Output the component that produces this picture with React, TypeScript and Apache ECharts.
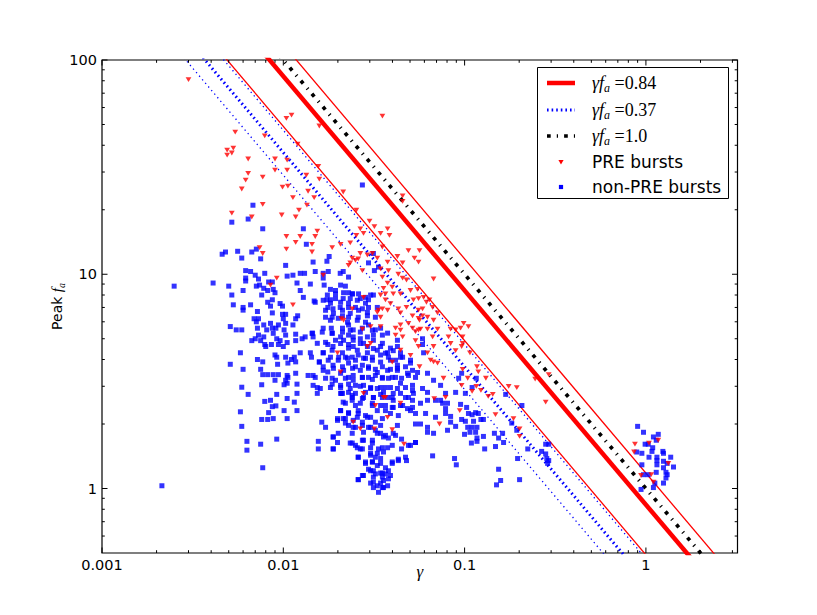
import React, { useEffect, useRef } from "react";
import * as echarts from "echarts";

// ---- axis ranges ----
const X_MIN = 0.001;
const X_MAX = 3.2;
const Y_MIN = 0.5;
const Y_MAX = 100;

// ---- constant-product lines (gamma * f_a = const) ----
const redMainProduct = 0.84;
const redBandProducts = [0.49, 1.18];
const blueMainProduct = 0.37;
const blueBandProducts = [0.29, 0.47];
const blackProduct = 1.0;

// ---- tick values ----
const xMajorTicks = [0.001, 0.01, 0.1, 1];
const xMinorTicks = [
  0.002, 0.003, 0.004, 0.005, 0.006, 0.007, 0.008, 0.009,
  0.02, 0.03, 0.04, 0.05, 0.06, 0.07, 0.08, 0.09,
  0.2, 0.3, 0.4, 0.5, 0.6, 0.7, 0.8, 0.9, 2, 3,
];
const yMajorTicks = [1, 10, 100];
const yMinorTicks = [0.6, 0.7, 0.8, 0.9, 2, 3, 4, 5, 6, 7, 8, 9, 20, 30, 40, 50, 60, 70, 80, 90];

// ---- PRE bursts [gamma, peak f_a] ----
const preBursts: [number, number][] = [
  [0.003, 81], [0.0352, 54.7], [0.0104, 53.4], [0.0111, 55.3], [0.0158, 49.2], [0.00543, 46.1], [0.0079, 44.2],
  [0.012, 40.5], [0.0049, 38.0], [0.0053, 38.8], [0.0052, 36.8], [0.0049, 36.0], [0.0064, 34.5], [0.009, 34.5],
  [0.0105, 34.1], [0.0156, 31.9], [0.0064, 29.6], [0.009, 30.6], [0.0105, 30.6], [0.0134, 29.0], [0.0077, 28.4],
  [0.0158, 27.8], [0.0062, 27.5], [0.0059, 25.0], [0.0099, 25.5], [0.0106, 25.8], [0.0137, 24.4], [0.0214, 24.2],
  [0.0113, 22.8], [0.0148, 22.8], [0.0077, 21.2], [0.0135, 21.0], [0.0122, 19.9], [0.0455, 23.2], [0.0455, 21.9],
  [0.0052, 19.3], [0.0067, 18.5], [0.0098, 18.9], [0.0104, 15.0], [0.0104, 13.1], [0.0074, 13.3], [0.0077, 12.5],
  [0.0092, 9.6], [0.0085, 8.9],
  [0.0117, 18.5], [0.0117, 14.1], [0.0124, 15.0], [0.0144, 13.8], [0.015, 15.0], [0.0154, 15.9], [0.0144, 12.7],
  [0.0186, 13.3], [0.0207, 13.8], [0.0253, 19.9], [0.0299, 17.7], [0.0318, 16.7], [0.0266, 16.3], [0.0277, 15.5],
  [0.0253, 15.2], [0.0344, 15.5], [0.0376, 16.3], [0.0385, 15.2], [0.0234, 14.0], [0.0266, 12.5], [0.0291, 12.3],
  [0.024, 11.9], [0.025, 11.6], [0.0229, 11.0], [0.0234, 11.3], [0.0259, 11.8], [0.031, 12.5], [0.033, 11.9],
  [0.0352, 13.4], [0.0376, 11.4], [0.0426, 12.1], [0.049, 12.9], [0.0564, 12.9], [0.0529, 11.9], [0.0557, 11.4],
  [0.0455, 11.3], [0.0344, 10.6], [0.038, 10.4], [0.0273, 10.4], [0.0352, 9.7], [0.0431, 10.0], [0.0455, 9.6],
  [0.0478, 9.4], [0.0376, 9.1], [0.0399, 8.7], [0.0357, 8.6], [0.0404, 8.1], [0.0344, 8.0], [0.0443, 8.1],
  [0.0503, 8.4], [0.055, 8.5], [0.0674, 9.5], [0.0366, 7.6], [0.039, 7.3], [0.0335, 6.8], [0.0352, 6.9],
  [0.0431, 6.9], [0.0478, 7.0], [0.0522, 7.6], [0.0557, 7.7], [0.0594, 7.8], [0.0616, 7.4], [0.0443, 6.6],
  [0.0557, 6.8], [0.0586, 6.9], [0.064, 7.6], [0.0666, 7.0], [0.0709, 6.6], [0.0516, 6.4], [0.0586, 6.4],
  [0.049, 5.9], [0.0516, 5.6], [0.0564, 6.1], [0.0624, 6.3], [0.0674, 6.1], [0.0536, 5.4], [0.0571, 5.55],
  [0.0416, 5.6], [0.0443, 5.8], [0.0344, 5.7], [0.0624, 5.55], [0.0709, 5.55], [0.0416, 5.2], [0.0536, 4.9],
  [0.0557, 4.6], [0.0666, 5.1], [0.0674, 4.6], [0.0624, 4.3], [0.0649, 3.97], [0.0674, 3.9], [0.0709, 3.85],
  [0.0837, 5.55], [0.0892, 5.5], [0.095, 5.6], [0.0988, 5.9], [0.0837, 4.75], [0.0975, 4.75], [0.105, 5.7],
  [0.0765, 3.27], [0.0975, 3.6], [0.094, 2.31], [0.0727, 2.0], [0.068, 2.63], [0.0785, 2.66], [0.0564, 3.7],
  [0.0291, 4.6], [0.024, 6.9], [0.0209, 6.2], [0.0273, 5.55], [0.0344, 6.3], [0.0303, 5.7], [0.0207, 3.5],
  [0.0166, 9.9], [0.0113, 7.2], [0.0266, 1.9], [0.0318, 1.9], [0.0399, 1.88], [0.0376, 2.15], [0.0463, 1.61],
  [0.0357, 2.66], [0.0443, 2.5],
  [0.0815, 5.1], [0.0975, 5.1], [0.0963, 4.6], [0.0892, 4.4], [0.107, 4.3], [0.117, 3.7], [0.119, 3.5],
  [0.104, 3.27], [0.131, 3.27], [0.0963, 3.03], [0.116, 3.0], [0.11, 2.84], [0.123, 2.87], [0.175, 3.0],
  [0.194, 2.96], [0.143, 2.75], [0.135, 2.69], [0.245, 3.24], [0.291, 3.4], [0.28, 2.53], [0.148, 2.21],
  [0.186, 2.12], [0.201, 1.9], [0.201, 1.75],
  [0.0277, 7.8], [0.0215, 6.1], [0.033, 6.64], [0.0366, 8.1], [0.0376, 6.79], [0.0443, 5.48], [0.0557, 6.23],
  [0.0557, 5.48], [0.0455, 5.1], [0.0199, 4.3], [0.0303, 4.76], [0.0399, 3.89], [0.0443, 4.42], [0.0503, 4.18],
  [0.0277, 2.78], [0.0366, 2.66], [0.0322, 2.44], [0.0243, 2.04],
  [0.87, 1.61], [0.86, 1.48], [1.04, 1.63], [1.17, 1.68], [1.33, 1.31], [1.07, 1.16], [0.94, 1.15], [1.1, 1.07],
];

// ---- non-PRE bursts [gamma, peak f_a] ----
const nonPreBursts: [number, number][] = [
  [0.0068, 21.0], [0.0064, 18.1], [0.0052, 17.5], [0.0077, 16.3], [0.0046, 12.4], [0.0048, 12.7], [0.0056, 12.8],
  [0.0067, 12.7], [0.0071, 13.1], [0.0059, 11.9], [0.0075, 11.8], [0.0103, 11.0], [0.0062, 10.4], [0.0066, 10.3],
  [0.007, 9.9], [0.0073, 9.5], [0.0062, 9.6], [0.0062, 9.3], [0.0079, 10.1], [0.0105, 9.8], [0.0025, 8.8],
  [0.0041, 9.1], [0.005, 8.8], [0.0071, 8.8], [0.0074, 8.9], [0.0083, 9.2], [0.0087, 9.2], [0.006, 8.4],
  [0.0078, 8.6], [0.0082, 8.4], [0.0088, 8.5], [0.009, 8.2], [0.0052, 8.0], [0.0076, 8.0], [0.0087, 7.6],
  [0.0082, 7.4], [0.0053, 7.2], [0.0066, 7.2], [0.006, 7.0], [0.006, 6.8], [0.0072, 6.7], [0.0085, 7.1],
  [0.0087, 6.6], [0.0096, 7.3], [0.0099, 7.1], [0.0099, 6.5], [0.0103, 6.5], [0.01, 6.2], [0.0069, 6.2],
  [0.0073, 6.2], [0.0071, 6.0], [0.0072, 5.6], [0.0078, 5.8], [0.0085, 5.9], [0.0087, 5.6], [0.0081, 5.5],
  [0.0091, 5.6], [0.0094, 5.8], [0.0103, 5.9], [0.0101, 5.5], [0.0051, 5.7], [0.0055, 5.5], [0.0059, 5.5],
  [0.0073, 5.2], [0.0078, 5.1], [0.007, 5.0], [0.0067, 4.9], [0.0075, 4.9], [0.0079, 4.7], [0.008, 4.6],
  [0.0088, 5.3], [0.0086, 4.7], [0.0092, 5.0], [0.0094, 4.7], [0.0103, 5.2], [0.0105, 4.8], [0.0058, 4.3],
  [0.0072, 4.0], [0.0077, 3.9], [0.009, 4.2], [0.0092, 4.1], [0.0103, 4.1], [0.0111, 4.0], [0.0051, 3.8],
  [0.006, 3.6], [0.0075, 3.6], [0.0077, 3.4], [0.0093, 3.8], [0.0082, 3.4], [0.0088, 3.4], [0.0094, 3.4],
  [0.0103, 3.2], [0.0106, 3.3], [0.0105, 3.1], [0.0101, 3.05], [0.009, 3.2], [0.0076, 3.05], [0.0059, 2.97],
  [0.0064, 2.75], [0.0092, 2.75], [0.0079, 2.55], [0.0085, 2.58], [0.0087, 2.41], [0.0091, 2.43], [0.0083, 2.26],
  [0.0101, 2.31], [0.0058, 2.28], [0.0076, 2.1], [0.0082, 2.1], [0.0088, 2.12], [0.0105, 2.12], [0.0059, 1.95],
  [0.0063, 1.66], [0.0063, 1.51], [0.0075, 1.61], [0.0092, 1.7], [0.0077, 1.25], [0.00214, 1.03],
  [0.0129, 16.3], [0.0134, 13.8], [0.0179, 12.1], [0.0174, 11.5], [0.0146, 11.4], [0.015, 10.3], [0.0166, 10.1],
  [0.0177, 10.3], [0.0113, 9.9], [0.0124, 10.1], [0.0131, 10.1], [0.0214, 10.3], [0.0206, 10.1], [0.0229, 9.7],
  [0.0295, 11.3], [0.0314, 12.5], [0.0318, 10.4], [0.0335, 10.8], [0.0119, 9.1], [0.0141, 9.0], [0.0166, 9.6],
  [0.0168, 8.9], [0.0182, 8.5], [0.0194, 8.4], [0.0207, 8.9], [0.022, 8.8], [0.0229, 8.2], [0.024, 8.1],
  [0.0124, 8.4], [0.0129, 7.8], [0.0148, 7.5], [0.0174, 7.6], [0.0182, 7.6], [0.0194, 7.7], [0.0214, 7.7],
  [0.0234, 7.7], [0.0266, 7.7], [0.0284, 7.8], [0.0314, 8.0], [0.0295, 7.6], [0.0176, 7.0], [0.0188, 6.9],
  [0.0206, 7.0], [0.0229, 7.0], [0.025, 7.0], [0.0273, 6.9], [0.0295, 7.0], [0.033, 7.0], [0.012, 6.4],
  [0.0171, 6.3], [0.0186, 6.3], [0.0212, 6.4], [0.0229, 6.3], [0.0259, 6.3], [0.0291, 6.4], [0.0322, 6.3],
  [0.0117, 6.2], [0.0113, 5.8], [0.0166, 5.6], [0.0184, 5.6], [0.0212, 5.6], [0.0229, 5.8], [0.0243, 5.5],
  [0.0273, 5.6], [0.0295, 5.8], [0.0322, 5.5], [0.0344, 5.6], [0.0117, 5.25], [0.0132, 5.1], [0.0146, 5.1],
  [0.0144, 5.3], [0.0186, 5.3], [0.0207, 5.1], [0.0229, 5.2], [0.0243, 5.1], [0.0266, 5.0], [0.0291, 5.1],
  [0.0314, 5.2], [0.0352, 5.2], [0.0117, 4.9], [0.0127, 5.0], [0.0176, 4.7], [0.0188, 4.6], [0.0207, 4.75],
  [0.0229, 4.7], [0.0243, 4.6], [0.0266, 4.75], [0.0291, 4.6], [0.0314, 4.5], [0.0344, 4.6], [0.0376, 4.3],
  [0.0404, 4.4], [0.0443, 4.3], [0.0426, 4.6], [0.0115, 4.1], [0.0124, 4.3], [0.0141, 4.3], [0.0143, 4.1],
  [0.0166, 4.3], [0.0182, 4.1], [0.0202, 4.1], [0.022, 4.1], [0.024, 4.1], [0.0259, 4.2], [0.0284, 4.05],
  [0.031, 4.1], [0.0344, 4.2], [0.038, 4.1], [0.0416, 3.97], [0.0455, 4.1], [0.0503, 3.85], [0.0586, 5.0],
  [0.0586, 4.7], [0.0594, 4.3], [0.0106, 3.85], [0.0117, 3.9], [0.0158, 3.9], [0.0166, 3.7], [0.0188, 3.76],
  [0.0212, 3.7], [0.0229, 3.85], [0.025, 3.7], [0.0273, 3.76], [0.0295, 3.7], [0.0322, 3.6], [0.0352, 3.7],
  [0.039, 3.6], [0.0426, 3.56], [0.0472, 3.7], [0.0516, 3.56], [0.0105, 3.37], [0.0117, 3.45], [0.0137, 3.37],
  [0.0146, 3.37], [0.0176, 3.5], [0.0186, 3.27], [0.0207, 3.45], [0.0229, 3.3], [0.0243, 3.37], [0.0273, 3.3],
  [0.0295, 3.3], [0.0322, 3.37], [0.0352, 3.3], [0.038, 3.27], [0.0416, 3.3], [0.0449, 3.27], [0.049, 3.37],
  [0.0536, 3.3], [0.0624, 3.45], [0.0674, 3.2], [0.0146, 3.03], [0.016, 2.93], [0.0186, 3.07], [0.0207, 3.03],
  [0.0229, 3.07], [0.025, 3.03], [0.0277, 3.03], [0.0303, 2.96], [0.033, 2.93], [0.0366, 2.96], [0.0426, 2.93],
  [0.0472, 2.96], [0.0516, 2.87], [0.0586, 2.93], [0.0624, 2.81], [0.0119, 2.78], [0.0154, 2.78], [0.0209, 2.78],
  [0.0229, 2.81], [0.025, 2.78], [0.0284, 2.81], [0.0314, 2.66], [0.0344, 2.75], [0.0376, 2.66], [0.0404, 2.58],
  [0.0472, 2.66], [0.0516, 2.58], [0.0624, 2.58], [0.0691, 2.58], [0.0115, 2.53], [0.0214, 2.53], [0.024, 2.58],
  [0.0266, 2.5], [0.031, 2.5], [0.0344, 2.44], [0.0366, 2.31], [0.0399, 2.39], [0.0443, 2.44], [0.0484, 2.36],
  [0.0536, 2.24], [0.0609, 2.24], [0.0691, 2.15], [0.0119, 2.31], [0.0207, 2.31], [0.0229, 2.24], [0.0259, 2.24],
  [0.0214, 2.12], [0.0199, 2.08], [0.0243, 2.08], [0.0273, 2.04], [0.0303, 2.15], [0.0322, 2.04], [0.0163, 2.04],
  [0.0229, 1.97], [0.025, 1.93], [0.0295, 1.93], [0.0322, 1.87], [0.0344, 1.81], [0.0357, 1.74], [0.038, 1.72],
  [0.0416, 1.77], [0.0449, 1.7], [0.049, 1.59], [0.0536, 1.64], [0.0624, 1.93], [0.0674, 1.81], [0.0171, 1.93],
  [0.0188, 1.74], [0.0199, 1.64], [0.0156, 1.66], [0.0156, 1.53], [0.0188, 1.53], [0.024, 1.63], [0.0256, 1.55],
  [0.0273, 1.53], [0.0303, 1.55], [0.0335, 1.53], [0.031, 1.68], [0.0273, 1.68], [0.0376, 1.55], [0.0259, 1.4],
  [0.0303, 1.46], [0.0322, 1.4], [0.031, 1.33], [0.0344, 1.38], [0.033, 1.28], [0.0284, 1.31], [0.0399, 1.31],
  [0.0366, 1.25], [0.0431, 1.37], [0.0472, 1.4], [0.0666, 1.42], [0.0303, 1.21], [0.0322, 1.17], [0.0344, 1.18],
  [0.0366, 1.17], [0.0273, 1.15], [0.0357, 1.09], [0.038, 1.11], [0.0259, 1.1], [0.0314, 1.07], [0.0344, 1.06],
  [0.0376, 1.03], [0.0314, 1.01], [0.0352, 1.01], [0.0335, 0.96], [0.0096, 4.9], [0.01, 4.6], [0.0119, 3.07],
  [0.0105, 2.63], [0.0737, 3.03], [0.101, 2.78], [0.0805, 1.87], [0.0273, 26.1],
  [0.0737, 2.58], [0.0756, 2.5], [0.0785, 2.36], [0.0805, 2.5], [0.0785, 2.78], [0.0785, 2.24], [0.0837, 2.17],
  [0.0837, 2.04], [0.0892, 2.81], [0.0892, 1.95], [0.0927, 3.27], [0.0963, 3.45], [0.095, 2.47], [0.1026, 2.39],
  [0.0963, 2.1], [0.101, 2.06], [0.105, 2.24], [0.11, 2.21], [0.115, 2.26], [0.119, 2.24], [0.116, 3.27],
  [0.11, 2.96], [0.104, 1.93], [0.11, 1.93], [0.107, 1.83], [0.115, 1.83], [0.0999, 1.79], [0.112, 2.06],
  [0.123, 2.1], [0.127, 2.1], [0.117, 1.93], [0.117, 1.72], [0.117, 1.66], [0.109, 1.63], [0.127, 1.75],
  [0.129, 1.53], [0.146, 1.81], [0.148, 1.57], [0.154, 1.72], [0.162, 1.81], [0.164, 1.64], [0.1685, 2.75],
  [0.182, 2.02], [0.194, 1.87], [0.207, 2.44], [0.223, 1.53], [0.196, 1.38], [0.201, 1.1], [0.154, 1.23],
  [0.158, 1.09], [0.15, 1.04], [0.088, 1.38], [0.09, 1.29], [0.266, 1.49], [0.28, 1.61], [0.291, 1.61],
  [0.28, 1.45], [0.284, 1.38], [0.291, 1.35], [0.287, 1.31],
  [0.0175, 8.0], [0.0194, 8.1], [0.0215, 8.2], [0.0241, 8.1], [0.026, 8.1], [0.0303, 8.0], [0.015, 7.4],
  [0.0166, 7.56], [0.0182, 7.33], [0.0207, 7.4], [0.0229, 7.33], [0.0256, 7.56], [0.0284, 7.33], [0.0171, 6.79],
  [0.0189, 6.57], [0.0212, 6.79], [0.0234, 6.57], [0.026, 6.79], [0.0291, 6.64], [0.0182, 6.1], [0.0201, 6.23],
  [0.0226, 5.97], [0.0256, 6.1], [0.0284, 5.97], [0.0145, 5.31], [0.0164, 5.37], [0.0186, 5.31], [0.0212, 5.37],
  [0.0234, 5.48], [0.0266, 5.37], [0.031, 5.48], [0.0154, 4.76], [0.0171, 4.81], [0.0194, 4.92], [0.0215, 4.92],
  [0.0243, 4.92], [0.0277, 4.76], [0.0314, 4.92], [0.0352, 4.76], [0.0166, 4.3], [0.0186, 4.42], [0.0212, 4.3],
  [0.0229, 4.52], [0.0256, 4.42], [0.0291, 4.3], [0.033, 4.42], [0.0366, 4.28], [0.0158, 3.89], [0.0177, 3.97],
  [0.0201, 3.97], [0.0226, 4.06], [0.025, 3.97], [0.0277, 4.06], [0.031, 3.97], [0.0344, 3.89], [0.039, 3.97],
  [0.0166, 3.56], [0.0189, 3.64], [0.0215, 3.56], [0.0241, 3.64], [0.0266, 3.56], [0.0295, 3.64], [0.033, 3.48],
  [0.0376, 3.56], [0.0426, 3.64], [0.015, 3.3], [0.0171, 3.27], [0.0194, 3.2], [0.022, 3.27], [0.0243, 3.2],
  [0.0273, 3.3], [0.031, 3.23], [0.0352, 3.27], [0.0399, 3.3], [0.0154, 2.96], [0.0182, 2.96], [0.0207, 2.96],
  [0.0234, 2.93], [0.0266, 3.0], [0.0303, 2.93], [0.0344, 2.96], [0.039, 2.96], [0.0212, 2.78], [0.024, 2.72],
  [0.0277, 2.66], [0.0352, 2.66], [0.0376, 5.31], [0.0426, 4.92], [0.039, 4.52], [0.0443, 4.1], [0.0503, 3.97],
  [0.0426, 3.76], [0.0484, 3.45], [0.055, 3.48], [0.0443, 3.1], [0.0516, 3.03], [0.0522, 2.78], [0.0404, 2.78],
  [0.0207, 2.78], [0.024, 2.66], [0.0273, 2.63], [0.0314, 2.66], [0.0357, 2.81], [0.0399, 2.66], [0.0443, 2.78],
  [0.049, 2.66], [0.022, 2.5], [0.025, 2.44], [0.031, 2.44], [0.0366, 2.44], [0.0404, 2.39], [0.0455, 2.44],
  [0.0516, 2.39], [0.0571, 2.5], [0.0207, 2.31], [0.0229, 2.26], [0.0259, 2.31], [0.0284, 2.19], [0.033, 2.31],
  [0.039, 2.24], [0.0431, 2.19], [0.0503, 2.31], [0.0199, 2.12], [0.022, 2.12], [0.0256, 2.15], [0.0291, 2.15],
  [0.0352, 2.12], [0.022, 2.02], [0.0243, 1.93], [0.0273, 1.97], [0.0303, 1.93], [0.0344, 1.97], [0.0426, 1.97],
  [0.0536, 2.0], [0.0571, 2.0], [0.0624, 1.83], [0.0189, 1.74], [0.0201, 1.81], [0.024, 1.81], [0.0277, 1.83],
  [0.033, 1.81], [0.0366, 1.77], [0.0404, 1.81], [0.0234, 1.63], [0.025, 1.59], [0.0277, 1.68], [0.031, 1.63],
  [0.0352, 1.55], [0.0399, 1.59], [0.0449, 1.53], [0.0503, 1.59], [0.0536, 1.64], [0.0189, 1.53], [0.0266, 1.53],
  [0.0259, 1.4], [0.0303, 1.43], [0.033, 1.46], [0.0357, 1.48], [0.0431, 1.35], [0.0478, 1.35], [0.0284, 1.33],
  [0.031, 1.33], [0.0344, 1.31], [0.0399, 1.33], [0.0295, 1.23], [0.0314, 1.21], [0.0352, 1.18], [0.038, 1.21],
  [0.0259, 1.1], [0.0277, 1.15], [0.0314, 1.13], [0.0352, 1.13], [0.039, 1.15], [0.0303, 1.06], [0.033, 1.03],
  [0.0357, 1.01],
  [0.9, 1.95], [0.97, 1.83], [1.1, 1.74], [1.17, 1.79], [1.14, 1.68], [0.99, 1.61], [1.03, 1.61], [1.09, 1.55],
  [1.08, 1.49], [0.95, 1.46], [0.89, 1.48], [1.24, 1.49], [1.25, 1.46], [1.04, 1.4], [1.15, 1.4], [1.15, 1.35],
  [1.37, 1.4], [1.25, 1.34], [0.95, 1.29], [1.15, 1.29], [1.31, 1.31], [1.42, 1.26], [1.25, 1.25], [1.29, 1.19],
  [1.14, 1.19], [0.97, 1.16], [1.03, 1.16], [1.31, 1.16], [1.12, 1.06], [1.1, 1.01], [1.29, 1.12], [1.25, 1.06],
  [0.94, 0.99],
];

// ---- styles ----
const RED = "#ff0000";
const BLUE = "#0000ff";
const BLACK = "#000000";
const DOT_THICK = [1.6, 3.0];
const DOT_THIN = [1.3, 3.4];
const DASHDOT = [3.7, 6.1, 1.2, 6.1];

const productLine = (p: number) => [
  [X_MIN, p / X_MIN],
  [X_MAX, p / X_MAX],
];

const lineSeries = (name: string, p: number, color: string, width: number, type: any) => ({
  type: "line",
  name,
  data: productLine(p),
  symbol: "none",
  showSymbol: false,
  silent: true,
  clip: true,
  z: 2,
  lineStyle: { color, width, type, cap: "butt" },
});

const tickSeries = (values: number[], dir: "x" | "y", len: number) => ({
  type: "custom",
  silent: true,
  z: 10,
  data: values.map((v) => (dir === "x" ? [v, 1] : [1, v])),
  renderItem: (params: any, api: any) => {
    const cs = params.coordSys;
    const st = { stroke: "#000", lineWidth: 1 };
    if (dir === "x") {
      const px = api.coord([api.value(0), 1])[0];
      const b = cs.y + cs.height;
      const t = cs.y;
      return {
        type: "group",
        children: [
          { type: "line", shape: { x1: px, y1: b, x2: px, y2: b - len }, style: st },
          { type: "line", shape: { x1: px, y1: t, x2: px, y2: t + len }, style: st },
        ],
      };
    }
    const py = api.coord([1, api.value(1)])[1];
    const l = cs.x;
    const r = cs.x + cs.width;
    return {
      type: "group",
      children: [
        { type: "line", shape: { x1: l, y1: py, x2: l + len, y2: py }, style: st },
        { type: "line", shape: { x1: r, y1: py, x2: r - len, y2: py }, style: st },
      ],
    };
  },
});

const mathRich = {
  m: { fontFamily: "Liberation Serif", fontStyle: "italic", fontSize: 18, lineHeight: 22, color: "#000" },
  s: { fontFamily: "Liberation Serif", fontStyle: "italic", fontSize: 12, lineHeight: 10, verticalAlign: "bottom", color: "#000" },
  n: { fontFamily: "Liberation Serif", fontSize: 18, lineHeight: 22, color: "#000" },
};

const legendRows = [
  { label: "{m|γf}{s|a}{n| =0.84}", y: 83, kind: "red" },
  { label: "{m|γf}{s|a}{n| =0.37}", y: 110, kind: "blue" },
  { label: "{m|γf}{s|a}{n| =1.0}", y: 136, kind: "black" },
  { label: "PRE bursts", y: 162, kind: "tri" },
  { label: "non-PRE bursts", y: 187, kind: "sq" },
];

function legendGraphic() {
  const children: any[] = [
    {
      type: "rect",
      shape: { x: 537.5, y: 67.5, width: 191, height: 131 },
      style: { fill: "#fff", stroke: "#000", lineWidth: 1 },
    },
  ];
  const lx1 = 547;
  const lx2 = 575;
  const mx = 561;
  legendRows.forEach((r) => {
    if (r.kind === "red") {
      children.push({ type: "line", shape: { x1: lx1, y1: r.y, x2: lx2, y2: r.y }, style: { stroke: RED, lineWidth: 4.5 } });
    } else if (r.kind === "blue") {
      children.push({ type: "line", shape: { x1: lx1, y1: r.y, x2: lx2, y2: r.y }, style: { stroke: BLUE, lineWidth: 3, lineDash: DOT_THICK } });
    } else if (r.kind === "black") {
      children.push({ type: "line", shape: { x1: lx1, y1: r.y, x2: lx2, y2: r.y }, style: { stroke: BLACK, lineWidth: 3.7, lineDash: DASHDOT } });
    } else if (r.kind === "tri") {
      children.push({ type: "polygon", shape: { points: [[mx - 2.6, r.y - 2], [mx + 2.6, r.y - 2], [mx, r.y + 2.4]] }, style: { fill: RED } });
    } else {
      children.push({ type: "rect", shape: { x: mx - 2.1, y: r.y - 2.1, width: 4.2, height: 4.2 }, style: { fill: BLUE } });
    }
    const isMath = r.label.startsWith("{");
    children.push({
      type: "text",
      x: 592,
      y: r.y,
      style: isMath
        ? { text: r.label, rich: mathRich, verticalAlign: "middle", align: "left", fill: "#000" }
        : { text: r.label, fontFamily: "DejaVu Sans", fontSize: 17, verticalAlign: "middle", align: "left", fill: "#000" },
    });
  });
  return [{ type: "group", z: 100, children }];
}

const option: any = {
  animation: false,
  backgroundColor: "#ffffff",
  textStyle: { fontFamily: "DejaVu Sans" },
  grid: {
    left: 102,
    right: 79.5,
    top: 60,
    bottom: 62,
    show: true,
    borderColor: "#000",
    borderWidth: 1.2,
    backgroundColor: "transparent",
  },
  xAxis: {
    type: "log",
    logBase: 10,
    min: X_MIN,
    max: X_MAX,
    axisLine: { show: false },
    axisTick: { show: false },
    splitLine: { show: false },
    minorTick: { show: false },
    axisLabel: {
      color: "#000",
      fontFamily: "DejaVu Sans",
      fontSize: 14.5,
      margin: 4,
      showMaxLabel: false,
      formatter: (v: number) => String(Number(v.toPrecision(3))),
    },
    name: "γ",
    nameLocation: "middle",
    nameGap: 10,
    nameMoveOverlap: false,
    nameTextStyle: { fontFamily: "Liberation Serif", fontStyle: "italic", fontSize: 17, color: "#000" },
  },
  yAxis: {
    type: "log",
    logBase: 10,
    min: Y_MIN,
    max: Y_MAX,
    axisLine: { show: false },
    axisTick: { show: false },
    splitLine: { show: false },
    minorTick: { show: false },
    axisLabel: {
      color: "#000",
      fontFamily: "DejaVu Sans",
      fontSize: 14.5,
      margin: 5,
      showMinLabel: false,
      formatter: (v: number) => String(Number(v.toPrecision(3))),
    },
    name: "{p|Peak }{f|f}{s|a}",
    nameLocation: "middle",
    nameRotate: 90,
    nameGap: 36,
    nameMoveOverlap: false,
    nameTextStyle: {
      rich: {
        p: { fontFamily: "DejaVu Sans", fontSize: 14, lineHeight: 18, color: "#000" },
        f: { fontFamily: "Liberation Serif", fontStyle: "italic", fontSize: 15, lineHeight: 18, color: "#000" },
        s: { fontFamily: "Liberation Serif", fontStyle: "italic", fontSize: 10, lineHeight: 8, verticalAlign: "bottom", color: "#000" },
      },
    },
  },
  series: [
    lineSeries("red-low", redBandProducts[0], RED, 1.3, "solid"),
    lineSeries("red-high", redBandProducts[1], RED, 1.3, "solid"),
    lineSeries("blue-low", blueBandProducts[0], BLUE, 1.3, DOT_THIN),
    lineSeries("blue-high", blueBandProducts[1], BLUE, 1.3, DOT_THIN),
    lineSeries("γf_a=0.37", blueMainProduct, BLUE, 3, DOT_THICK),
    lineSeries("γf_a=0.84", redMainProduct, RED, 4.5, "solid"),
    lineSeries("γf_a=1.0", blackProduct, BLACK, 3.7, DASHDOT),
    {
      type: "scatter",
      name: "non-PRE bursts",
      data: nonPreBursts,
      symbol: "rect",
      symbolSize: 5,
      silent: true,
      z: 3,
      itemStyle: { color: BLUE },
    },
    {
      type: "scatter",
      name: "PRE bursts",
      data: preBursts,
      symbol: "triangle",
      symbolRotate: 180,
      symbolSize: [5.8, 4.8],
      silent: true,
      z: 4,
      itemStyle: { color: RED },
    },
    tickSeries(xMajorTicks, "x", 5.5),
    tickSeries(xMinorTicks, "x", 2.8),
    tickSeries(yMajorTicks, "y", 5.5),
    tickSeries(yMinorTicks, "y", 2.8),
  ],
  graphic: legendGraphic(),
};

export default function App() {
  const ref = useRef<HTMLDivElement>(null);
  useEffect(() => {
    if (!ref.current) return;
    const chart = echarts.init(ref.current, null, { renderer: "svg" });
    chart.setOption(option);
    return () => chart.dispose();
  }, []);
  return (
    <div
      ref={ref}
      style={{ position: "fixed", left: 0, top: 0, width: 817, height: 615, background: "#fff" }}
    />
  );
}
